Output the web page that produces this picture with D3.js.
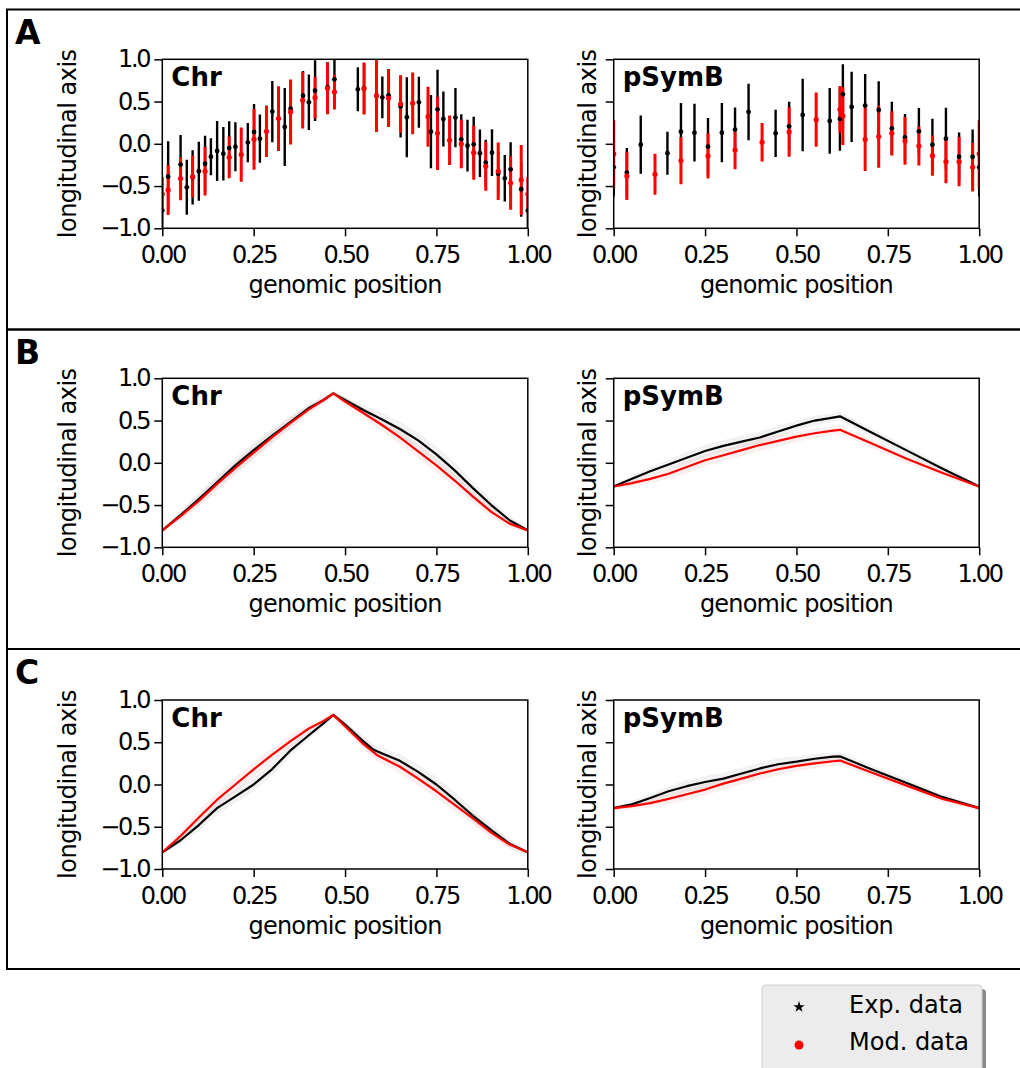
<!DOCTYPE html>
<html>
<head>
<meta charset="utf-8">
<script src="https://cdn.jsdelivr.net/npm/d3@7"></script>
<style>
  body { margin: 0; background: #fff; }
  text { font-family: "DejaVu Sans", sans-serif; }
</style>
</head>
<body>
<script>
var width = 1020, height = 1068;

// panel A: [position, value, error]
var chrExpA = [[0,-0.79,0.22],[0.016,-0.389,0.418],[0.050,-0.246,0.351],[0.067,-0.515,0.325],[0.083,-0.397,0.321],
  [0.100,-0.325,0.349],[0.117,-0.235,0.329],[0.133,-0.152,0.219],[0.150,-0.085,0.355],[0.167,-0.118,0.316],
  [0.183,-0.050,0.316],[0.200,-0.034,0.290],[0.234,0.014,0.231],[0.251,0.140,0.331],[0.267,0.061,0.286],
  [0.301,0.381,0.363],[0.335,0.199,0.462],[0.351,0.416,0.339],[0.385,0.570,0.292],[0.401,0.491,0.329],
  [0.418,0.629,0.359],[0.452,0.669,0.296],[0.471,0.763,0.276],[0.535,0.645,0.260],[0.552,0.660,0.300],
  [0.602,0.550,0.247],[0.619,0.574,0.296],[0.652,0.440,0.365],[0.669,0.314,0.473],[0.702,0.491,0.302],
  [0.735,0.144,0.434],[0.753,0.408,0.467],[0.769,0.294,0.325],[0.802,0.310,0.351],[0.818,0.053,0.296],
  [0.835,-0.022,0.306],[0.852,-0.006,0.325],[0.869,-0.112,0.280],[0.885,-0.223,0.270],[0.902,-0.105,0.276],
  [0.919,-0.353,0.266],[0.937,-0.408,0.276],[0.953,-0.302,0.321],[0.982,-0.538,0.325],[1,-0.79,0.22]];
var chrModA = [[0,-0.594,0.2],[0.016,-0.546,0.296],[0.050,-0.412,0.256],[0.083,-0.388,0.250],[0.117,-0.325,0.286],
  [0.183,-0.160,0.247],[0.216,-0.128,0.321],[0.251,0.053,0.359],[0.285,0.148,0.304],[0.318,0.298,0.383],
  [0.351,0.377,0.385],[0.384,0.515,0.335],[0.418,0.546,0.247],[0.452,0.657,0.306],[0.471,0.613,0.207],
  [0.552,0.653,0.306],[0.586,0.570,0.430],[0.619,0.542,0.343],[0.652,0.471,0.341],[0.685,0.479,0.365],
  [0.727,0.321,0.355],[0.753,0.124,0.434],[0.786,0.042,0.294],[0.818,-0.002,0.286],[0.852,-0.105,0.320],
  [0.885,-0.266,0.290],[0.919,-0.325,0.339],[0.953,-0.464,0.316],[0.982,-0.428,0.414],[1,-0.594,0.2]];
var psymExpA = [[0,-0.278,0.347],[0.036,-0.341,0.29],[0.074,-0.010,0.345],[0.147,-0.112,0.254],[0.184,0.144,0.339],
  [0.221,0.132,0.341],[0.258,-0.034,0.339],[0.296,0.132,0.351],[0.332,0.168,0.262],[0.369,0.377,0.335],
  [0.443,0.124,0.280],[0.480,0.207,0.290],[0.517,0.341,0.428],[0.591,0.270,0.389],[0.619,0.294,0.375],
  [0.627,0.586,0.355],[0.651,0.436,0.416],[0.688,0.452,0.375],[0.725,0.400,0.339],[0.761,0.183,0.316],
  [0.797,0.077,0.276],[0.835,0.148,0.276],[0.872,-0.010,0.306],[0.909,0.061,0.367],[0.945,-0.152,0.286],
  [0.982,-0.152,0.320],[1,-0.278,0.347]];
var psymModA = [[0,-0.120,0.40],[0.036,-0.380,0.286],[0.113,-0.361,0.243],[0.184,-0.199,0.280],[0.258,-0.144,0.268],
  [0.332,-0.073,0.227],[0.406,0.018,0.227],[0.480,0.140,0.292],[0.554,0.286,0.320],[0.619,0.408,0.276],
  [0.627,0.329,0.343],[0.688,0.053,0.375],[0.725,0.085,0.369],[0.761,0.124,0.262],[0.797,0.034,0.282],
  [0.835,-0.026,0.231],[0.872,-0.140,0.237],[0.909,-0.211,0.256],[0.945,-0.211,0.292],[0.982,-0.278,0.286],
  [1,-0.120,0.40]];

// panels B and C: [position, value, spread]
var chrExpB = [[0,-0.80,0.02],[0.05,-0.62,0.05],[0.10,-0.43,0.07],[0.15,-0.23,0.08],[0.20,-0.03,0.09],
  [0.25,0.15,0.09],[0.30,0.32,0.08],[0.35,0.48,0.07],[0.40,0.645,0.05],[0.44,0.74,0.04],[0.468,0.822,0.02],
  [0.50,0.745,0.04],[0.55,0.625,0.06],[0.60,0.515,0.08],[0.65,0.40,0.09],[0.70,0.265,0.09],[0.75,0.10,0.09],
  [0.80,-0.09,0.09],[0.85,-0.30,0.08],[0.90,-0.50,0.07],[0.95,-0.68,0.05],[1,-0.80,0.02]];
var chrModB = [[0,-0.80,0.03],[0.05,-0.63,0.05],[0.10,-0.45,0.07],[0.15,-0.25,0.08],[0.20,-0.06,0.08],
  [0.25,0.12,0.08],[0.30,0.30,0.08],[0.35,0.47,0.07],[0.40,0.63,0.05],[0.44,0.74,0.04],[0.468,0.822,0.03],
  [0.50,0.725,0.05],[0.55,0.59,0.06],[0.60,0.45,0.07],[0.65,0.30,0.08],[0.70,0.135,0.08],[0.75,-0.03,0.08],
  [0.80,-0.21,0.08],[0.85,-0.40,0.07],[0.90,-0.58,0.06],[0.95,-0.72,0.05],[1,-0.80,0.03]];
var psymExpB = [[0,-0.28,0.02],[0.05,-0.19,0.04],[0.10,-0.10,0.05],[0.15,-0.02,0.06],[0.20,0.06,0.07],
  [0.25,0.14,0.07],[0.30,0.20,0.07],[0.35,0.25,0.07],[0.40,0.30,0.07],[0.45,0.37,0.07],[0.50,0.44,0.06],
  [0.55,0.50,0.06],[0.60,0.535,0.05],[0.619,0.55,0.05],[0.70,0.37,0.05],[0.80,0.15,0.05],[0.90,-0.07,0.04],
  [1,-0.28,0.02]];
var psymModB = [[0,-0.28,0.03],[0.05,-0.24,0.04],[0.10,-0.19,0.05],[0.15,-0.13,0.06],[0.20,-0.05,0.07],
  [0.25,0.03,0.07],[0.30,0.09,0.07],[0.35,0.15,0.07],[0.40,0.21,0.07],[0.45,0.26,0.07],[0.50,0.31,0.06],
  [0.55,0.35,0.06],[0.60,0.38,0.05],[0.619,0.39,0.05],[0.70,0.24,0.05],[0.80,0.05,0.05],[0.90,-0.12,0.04],
  [1,-0.28,0.03]];
var chrExpC = [[0,-0.803,0.02],[0.05,-0.66,0.05],[0.10,-0.48,0.07],[0.15,-0.28,0.08],[0.20,-0.14,0.08],
  [0.25,0.00,0.08],[0.30,0.18,0.08],[0.35,0.40,0.07],[0.40,0.58,0.05],[0.44,0.72,0.04],[0.468,0.823,0.02],
  [0.50,0.71,0.04],[0.55,0.51,0.06],[0.578,0.41,0.07],[0.60,0.37,0.07],[0.65,0.28,0.08],[0.70,0.15,0.09],
  [0.75,0.00,0.09],[0.80,-0.18,0.09],[0.85,-0.37,0.08],[0.90,-0.54,0.07],[0.95,-0.70,0.05],[1,-0.803,0.02]];
var chrModC = [[0,-0.803,0.03],[0.05,-0.61,0.06],[0.10,-0.39,0.08],[0.15,-0.18,0.09],[0.20,0.00,0.09],
  [0.25,0.18,0.09],[0.30,0.35,0.08],[0.35,0.51,0.07],[0.40,0.66,0.05],[0.44,0.75,0.04],[0.468,0.823,0.03],
  [0.50,0.69,0.05],[0.55,0.48,0.06],[0.587,0.35,0.07],[0.60,0.32,0.07],[0.65,0.21,0.08],[0.70,0.07,0.08],
  [0.75,-0.08,0.08],[0.80,-0.24,0.08],[0.85,-0.40,0.07],[0.90,-0.57,0.06],[0.95,-0.71,0.05],[1,-0.803,0.03]];
var psymExpC = [[0,-0.28,0.02],[0.05,-0.235,0.04],[0.10,-0.16,0.05],[0.15,-0.08,0.06],[0.20,-0.02,0.07],
  [0.25,0.03,0.07],[0.30,0.07,0.07],[0.35,0.13,0.07],[0.40,0.19,0.07],[0.45,0.24,0.07],[0.50,0.27,0.06],
  [0.55,0.305,0.06],[0.60,0.33,0.05],[0.62,0.332,0.05],[0.70,0.19,0.05],[0.80,0.02,0.05],[0.90,-0.15,0.04],
  [1,-0.28,0.02]];
var psymModC = [[0,-0.28,0.03],[0.05,-0.255,0.04],[0.10,-0.22,0.05],[0.15,-0.17,0.06],[0.20,-0.115,0.07],
  [0.25,-0.06,0.07],[0.30,0.01,0.07],[0.35,0.07,0.07],[0.40,0.13,0.07],[0.45,0.18,0.07],[0.50,0.22,0.06],
  [0.55,0.25,0.06],[0.60,0.275,0.05],[0.62,0.283,0.05],[0.70,0.15,0.05],[0.80,-0.01,0.05],[0.90,-0.17,0.04],
  [1,-0.28,0.03]];

var xTicks = [0, 0.25, 0.5, 0.75, 1];
var yTicks = [-1, -0.5, 0, 0.5, 1];
var panelLetters = ["A", "B", "C"];
var chromNames = ["Chr", "pSymB"];
var legendLabels = ["Exp. data", "Mod. data"];

var panelTops = [9.5, 329.5, 649, 969];
var axesTops = [59.3, 378.3, 700];
var axesH = 169;
var axesLeft = [162.3, 613.7];
var axesW = 365.5;

var svg = d3.select("body").append("svg")
    .attr("width", width)
    .attr("height", height);

// panel frames
for (var i = 0; i < 3; i++) {
  svg.append("rect")
      .attr("x", 7).attr("y", panelTops[i])
      .attr("width", 1030).attr("height", panelTops[i+1] - panelTops[i])
      .attr("fill", "none").attr("stroke", "#000").attr("stroke-width", 2);
  svg.append("text")
      .attr("x", 15).attr("y", panelTops[i] + 34.5)
      .style("font-size", "33px").style("font-weight", "bold")
      .text(panelLetters[i]);
}

var clipN = 0;
function makeAxes(row, col) {
  var top = axesTops[row], left = axesLeft[col];
  var x = d3.scaleLinear().domain([0, 1]).range([left, left + axesW]);
  var y = d3.scaleLinear().domain([-1, 1]).range([top + axesH, top]);
  var g = svg.append("g");
  var id = "clip" + (clipN++);
  g.append("clipPath").attr("id", id).append("rect")
      .attr("x", left).attr("y", top).attr("width", axesW).attr("height", axesH);
  var plot = g.append("g").attr("clip-path", "url(#" + id + ")");

  var xAxis = d3.axisBottom(x).tickValues(xTicks).tickFormat(d3.format(".2f")).tickSize(8).tickPadding(10);
  var yAxis = d3.axisLeft(y).tickValues(yTicks).tickSize(8).tickPadding(5)
      .tickFormat(col === 0 ? function(d) { return d3.format(".1f")(d).replace("-", "\u2212"); } : "");

  var gx = g.append("g").attr("transform", "translate(0," + (top + axesH) + ")").call(xAxis);
  var gy = g.append("g").attr("transform", "translate(" + left + ",0)").call(yAxis);
  [gx, gy].forEach(function(a) {
    a.select(".domain").remove();
    a.selectAll("line").attr("stroke-width", 1.5);
    a.selectAll("text").style("font-size", "24px").style("letter-spacing", "-2.3px")
        .style("font-family", "DejaVu Sans");
  });

  g.append("rect")
      .attr("x", left).attr("y", top).attr("width", axesW).attr("height", axesH)
      .attr("fill", "none").attr("stroke", "#000").attr("stroke-width", 1.5);

  g.append("text")
      .attr("x", left + axesW / 2).attr("y", top + axesH + 65)
      .attr("text-anchor", "middle")
      .style("font-size", "24px").style("letter-spacing", "-0.8px")
      .text("genomic position");
  var lx = col === 0 ? left - 86 : left - 18;
  g.append("text")
      .attr("transform", "translate(" + lx + "," + (top + axesH / 2) + ") rotate(-90)")
      .attr("text-anchor", "middle")
      .style("font-size", "24px").style("letter-spacing", "-0.5px")
      .text("longitudinal axis");
  g.append("text")
      .attr("x", left + 9).attr("y", top + 27)
      .style("font-size", "26px").style("font-weight", "bold")
      .text(chromNames[col]);

  return {x: x, y: y, plot: plot};
}

function errorBars(ax, data, color, w) {
  ax.plot.append("g").selectAll("line").data(data).enter().append("line")
      .attr("x1", function(d) { return ax.x(d[0]); })
      .attr("x2", function(d) { return ax.x(d[0]); })
      .attr("y1", function(d) { return ax.y(d[1] - d[2]); })
      .attr("y2", function(d) { return ax.y(d[1] + d[2]); })
      .attr("stroke", color).attr("stroke-width", w);
}
function dots(ax, data, color, r) {
  ax.plot.append("g").selectAll("circle").data(data).enter().append("circle")
      .attr("cx", function(d) { return ax.x(d[0]); })
      .attr("cy", function(d) { return ax.y(d[1]); })
      .attr("r", r)
      .attr("fill", color);
}

function bandLine(ax, data, color, bandOpacity) {
  var area = d3.area()
      .x(function(d) { return ax.x(d[0]); })
      .y0(function(d) { return ax.y(d[1] - d[2]); })
      .y1(function(d) { return ax.y(d[1] + d[2]); });
  ax.plot.append("path").attr("d", area(data))
      .attr("fill", color).attr("fill-opacity", bandOpacity);
}
function meanLine(ax, data, color) {
  var line = d3.line()
      .x(function(d) { return ax.x(d[0]); })
      .y(function(d) { return ax.y(d[1]); });
  ax.plot.append("path").attr("d", line(data))
      .attr("fill", "none").attr("stroke", color).attr("stroke-width", 2.2)
      .attr("stroke-linejoin", "round");
}

// A
var aL = makeAxes(0, 0), aR = makeAxes(0, 1);
[[aL, chrExpA, chrModA], [aR, psymExpA, psymModA]].forEach(function(p) {
  errorBars(p[0], p[1], "#000", 2.4);
  errorBars(p[0], p[2], "#ff0000", 3);
  dots(p[0], p[1], "#000", 2.4);
  dots(p[0], p[2], "#ff0000", 2.6);
});

// B and C
[[1, chrExpB, chrModB, psymExpB, psymModB], [2, chrExpC, chrModC, psymExpC, psymModC]].forEach(function(r) {
  var l = makeAxes(r[0], 0), rt = makeAxes(r[0], 1);
  [[l, r[1], r[2]], [rt, r[3], r[4]]].forEach(function(p) {
    bandLine(p[0], p[1], "#000", 0.05);
    bandLine(p[0], p[2], "#c03030", 0.07);
    meanLine(p[0], p[1], "#000");
    meanLine(p[0], p[2], "#ff0000");
  });
});

// legend
var lg = svg.append("g");
lg.append("rect").attr("x", 766).attr("y", 989).attr("width", 220).attr("height", 90)
    .attr("rx", 4).attr("fill", "#8a8a8a");
lg.append("rect").attr("x", 762).attr("y", 985).attr("width", 220).attr("height", 90)
    .attr("rx", 4).attr("fill", "#ececec").attr("stroke", "#cfcfcf").attr("stroke-width", 1);
lg.append("path").attr("d", d3.symbol().type(d3.symbolStar).size(40))
    .attr("transform", "translate(799,1007)").attr("fill", "#000");
lg.append("circle").attr("cx", 799).attr("cy", 1045).attr("r", 4.5).attr("fill", "#ff0000");
legendLabels.forEach(function(t, i) {
  lg.append("text").attr("x", 849).attr("y", 1013 + i * 37)
      .style("font-size", "24px").text(t);
});
</script>
</body>
</html>
